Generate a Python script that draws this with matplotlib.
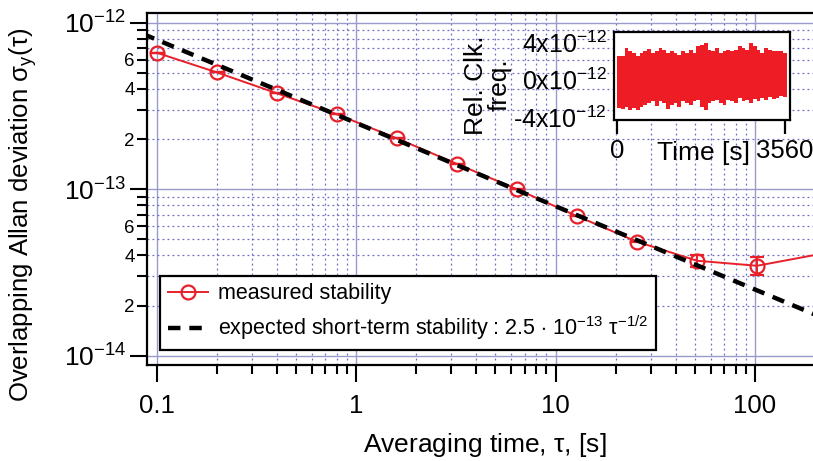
import matplotlib
matplotlib.use("Agg")
import matplotlib.pyplot as plt
import numpy as np
from matplotlib.ticker import FixedLocator, FixedFormatter, NullFormatter
from matplotlib.lines import Line2D

plt.rcParams["font.family"] = ["Liberation Sans", "DejaVu Sans"]
plt.rcParams["mathtext.fontset"] = "custom"
plt.rcParams["mathtext.rm"] = "Liberation Sans"
plt.rcParams["mathtext.it"] = "Liberation Sans:italic"
plt.rcParams["mathtext.bf"] = "Liberation Sans:bold"

# Overlapping Allan deviation of the clock
tau = [0.1, 0.2, 0.4, 0.8, 1.6, 3.2, 6.4, 12.8, 25.6, 51.2, 102.4, 204.8]
adev = [6.60e-13, 5.03e-13, 3.77e-13, 2.82e-13, 2.02e-13, 1.42e-13,
        1.00e-13, 6.90e-14, 4.84e-14, 3.72e-14, 3.47e-14, 4.05e-14]
adev_err = [0.3e-15, 0.3e-15, 0.3e-15, 0.3e-15, 0.3e-15, 0.3e-15,
            0.3e-15, 0.3e-15, 0.4e-15, 3.3e-15, 4.3e-15, 6.0e-15]

# Expected white-frequency-noise limit: 2.5e-13 * tau^-1/2
sigma_1s = 2.5e-13
tau_model = [0.085, 220.0]

x_major = [0.1, 1, 10, 100]
x_major_labels = ["0.1", "1", "10", "100"]
y_major = [1e-14, 1e-13, 1e-12]
y_major_labels = ["10$^{-14}$", "10$^{-13}$", "10$^{-12}$"]
y_minor_labelled = {2: "2", 4: "4", 6: "6"}

# Relative clock frequency record (upper / lower envelope, units of 1e-12)
freq_upper = [2.49, 2.56, 3.38, 3.02, 2.84, 2.49, 2.84, 3.02, 3.27, 2.84,
              3.02, 3.38, 3.20, 2.84, 3.02, 2.84, 2.67, 3.02, 2.84, 3.20,
              2.84, 3.56, 3.73, 3.91, 3.20, 3.02, 3.38, 2.84, 3.02, 3.20,
              3.02, 3.20, 3.56, 3.38, 3.20, 3.91, 3.56, 3.20, 2.84, 3.38,
              3.20, 3.02, 3.10, 3.02, 2.84]
freq_lower = [-3.02, -3.13, -2.92, -3.20, -3.02, -3.27, -2.92, -2.67, -2.49, -2.31,
              -2.84, -2.31, -2.49, -3.13, -2.67, -2.49, -2.92, -2.31, -2.49, -2.67,
              -2.31, -2.13, -2.92, -3.27, -2.49, -2.31, -2.13, -2.49, -2.67, -2.13,
              -2.31, -2.49, -1.96, -2.31, -2.13, -2.49, -2.06, -2.31, -1.96, -2.13,
              -1.85, -2.06, -1.96, -1.78, -1.85]
record_edges = list(range(0, 3601, 80))
inset_xticks = [0, 3560]
inset_yticks = [-4e-12, 0, 4e-12]
inset_ylabels = ["-4x10$^{-12}$", "0x10$^{-12}$", "4x10$^{-12}$"]

red = "#e8202a"
major_grid = "#9a9acd"
minor_grid = "#6c6cc4"

x_lim = (0.0894, 203)

fig = plt.figure(figsize=(8.13, 4.61), dpi=100)
ax = fig.add_axes([147 / 813, 1 - 365 / 461, 1 - 147 / 813 + 0.004, (365 - 13) / 461])
ax.set_xscale("log")
ax.set_yscale("log")
ax.set_xlim(*x_lim)
ax.set_ylim(8.8e-15, 1.143e-12)

# ticks and grid
ax.xaxis.set_major_locator(FixedLocator(x_major))
ax.xaxis.set_major_formatter(FixedFormatter(x_major_labels))
x_minor = [m * d for d in [0.1, 1, 10, 100] for m in range(2, 10)]
ax.xaxis.set_minor_locator(FixedLocator(x_minor))
ax.xaxis.set_minor_formatter(NullFormatter())
ax.yaxis.set_major_locator(FixedLocator(y_major))
ax.yaxis.set_major_formatter(FixedFormatter(y_major_labels))
y_minor = [m * d for d in [1e-14, 1e-13] for m in range(2, 10)]
ax.yaxis.set_minor_locator(FixedLocator(y_minor))
ax.yaxis.set_minor_formatter(FixedFormatter(
    [y_minor_labelled.get(m, "") for d in [1e-14, 1e-13] for m in range(2, 10)]))

ax.grid(which="major", color=major_grid, lw=1.0, ls="-", zorder=0)
ax.grid(which="minor", color=minor_grid, lw=0.9, ls=(0, (1.5, 2.5)), zorder=0)
ax.set_axisbelow(True)

for s in ["left", "bottom", "top"]:
    ax.spines[s].set_linewidth(1.6)
ax.spines["right"].set_visible(False)

ax.tick_params(which="major", axis="y", direction="out", length=12, width=1.5,
               labelsize=19, pad=3)
ax.tick_params(which="minor", axis="y", direction="out", length=7, width=1.5,
               labelsize=13.5, pad=2)
ax.tick_params(which="major", axis="x", direction="out", length=12, width=1.5,
               labelsize=18.5, pad=9)
ax.tick_params(which="minor", axis="x", direction="out", length=6.5, width=1.5)

# measured stability: connecting line over every point, markers inside the range
ax.plot(tau, adev, color=red, lw=1.4, zorder=3)
shown = [i for i, t in enumerate(tau) if t <= x_lim[1]]
ax.errorbar([tau[i] for i in shown], [adev[i] for i in shown],
            yerr=[adev_err[i] for i in shown], ls="none", marker="o", ms=10,
            mfc="none", mec=red, mew=1.6, ecolor=red, capsize=5, capthick=1.6,
            elinewidth=1.4, zorder=3)
# expected short-term stability
tau_model_arr = np.array(tau_model)
ax.plot(tau_model_arr, sigma_1s / np.sqrt(tau_model_arr), color="black", lw=3.2,
        ls=(0, (2.8, 2.0)), zorder=4)

h_meas = Line2D([], [], color=red, lw=1.4, marker="o", ms=10, mfc="none",
                mec=red, mew=1.6)
h_exp = Line2D([], [], color="black", lw=3.2, ls=(0, (2.8, 2.0)))
leg = ax.legend([h_meas, h_exp],
                ["measured stability",
                 "expected short-term stability : 2.5 $\\cdot$ 10$^{-13}$ $\\mathrm{\\tau}^{-1/2}$"],
                loc="lower left", bbox_to_anchor=(0.0195, 0.0426), borderaxespad=0,
                fontsize=15.5, frameon=True, fancybox=False, framealpha=1,
                edgecolor="black", handlelength=1.9, handletextpad=0.45,
                labelspacing=0.45, borderpad=0.35)
leg.get_frame().set_linewidth(1.6)
leg.set_zorder(6)

fig.text(485 / 813, 1 - 452 / 461, "Averaging time, $\\mathrm{\\tau}$, [s]",
         ha="center", va="baseline", fontsize=19)
fig.text(23 / 813, 1 - 215 / 461,
         "Overlapping Allan deviation $\\mathrm{\\sigma_y(\\tau)}$",
         ha="center", va="center", rotation=90, fontsize=18.5)

# inset: frequency record
axi = fig.add_axes([614 / 813, 1 - 120 / 461, 176 / 813, 88 / 461])
axi.set_zorder(5)
axi.set_facecolor("white")
axi.stairs(np.array(freq_upper) * 1e-12, record_edges,
           baseline=np.array(freq_lower) * 1e-12, fill=True, color="#ee1c25", lw=0)
axi.set_xlim(-64, 3666)
axi.set_ylim(-4.3e-12, 5.1e-12)
axi.set_xticks(inset_xticks)
axi.set_xticklabels(["0", "3560"])
axi.set_yticks(inset_yticks)
axi.set_yticklabels(inset_ylabels)
axi.tick_params(axis="y", length=0, labelsize=18, pad=5)
axi.tick_params(axis="x", direction="out", length=10, width=1.6, labelsize=18.5, pad=4)
for s in axi.spines.values():
    s.set_linewidth(1.6)
axi.text(0.506, -0.375, "Time [s]", transform=axi.transAxes, ha="center",
         va="center", fontsize=19)
axi.text(-0.716, 0.40, "Rel. Clk.\nfreq.", transform=axi.transAxes, ha="center",
         va="center", rotation=90, fontsize=19, linespacing=1.0)

fig.savefig("out.png", dpi=100)
